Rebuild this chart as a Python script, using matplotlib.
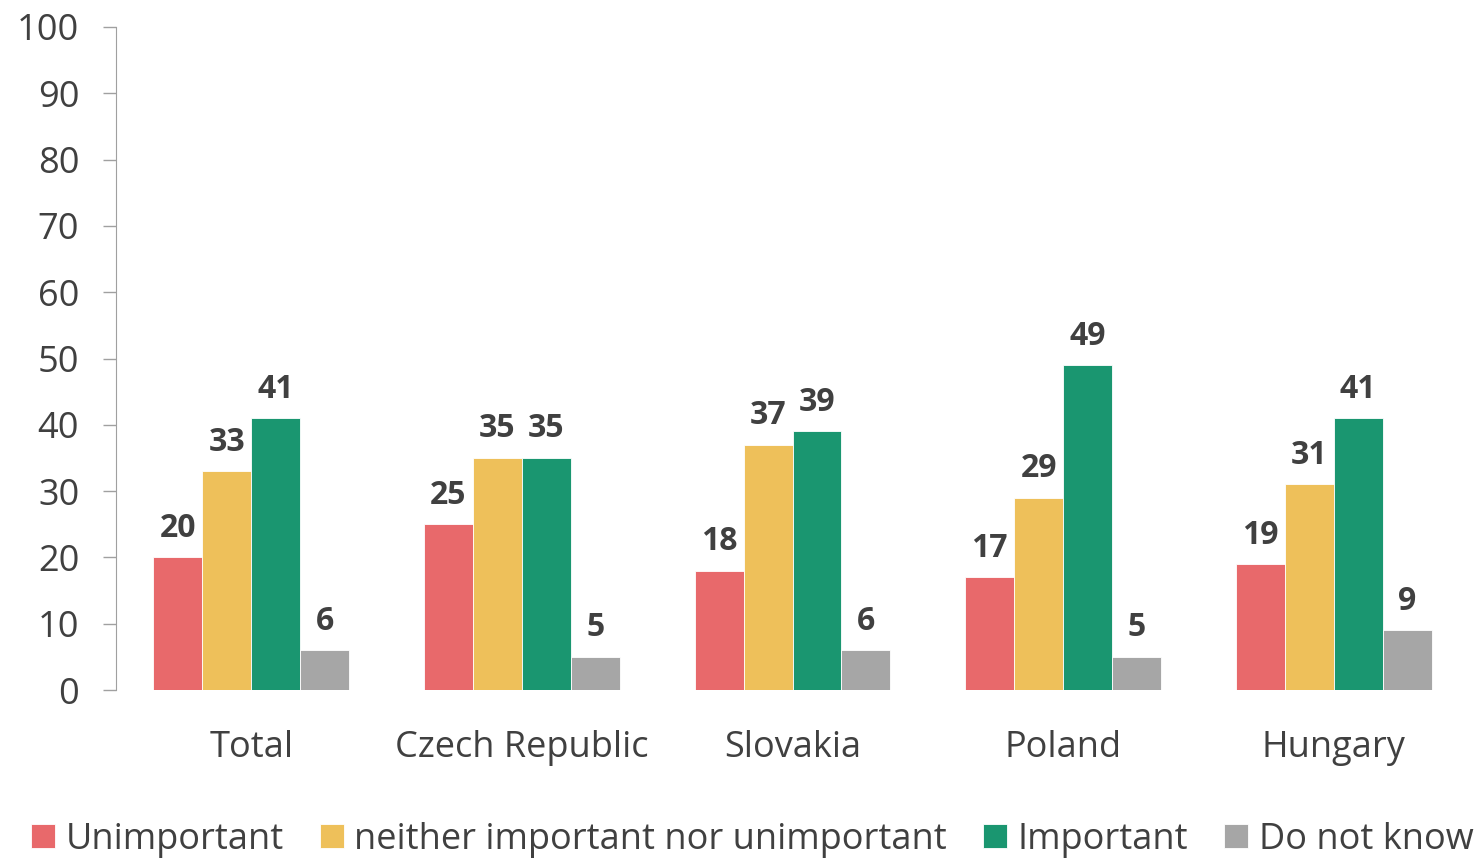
import matplotlib
matplotlib.use("Agg")
import matplotlib.pyplot as plt
import numpy as np

plt.rcParams['font.family'] = ['Open Sans', 'DejaVu Sans']

categories = ["Total", "Czech Republic", "Slovakia", "Poland", "Hungary"]
series_names = ["Unimportant", "neither important nor unimportant", "Important", "Do not know"]
unimportant = [20, 25, 18, 17, 19]
neither = [33, 35, 37, 29, 31]
important = [41, 35, 39, 49, 41]
dont_know = [6, 5, 6, 5, 9]
colors = ["#E8696B", "#EEC05A", "#1A9670", "#A6A6A6"]
yticks = list(range(0, 101, 10))

fig = plt.figure(figsize=(14.81, 8.58), dpi=100)
ax = fig.add_axes([116/1481, 168/858, (1469-116)/1481, 663/858])

x = np.arange(len(categories))
w = 0.181
data = [unimportant, neither, important, dont_know]
for i, (vals, name, c) in enumerate(zip(data, series_names, colors)):
    pos = x + (i - 1.5) * w
    ax.bar(pos, vals, w, color=c, label=name, edgecolor='white', linewidth=0.6)
    for p, v in zip(pos, vals):
        ax.annotate(str(v), (p, v), xytext=(0, 9), textcoords='offset points',
                    ha='center', va='bottom', fontsize=23, fontweight='bold',
                    color='#404040')

ax.set_xlim(-0.5, len(categories) - 0.5)
ax.set_ylim(0, 100)
ax.set_yticks(yticks)
ax.set_yticklabels([str(t) for t in yticks], fontsize=26, color='#404040')
ax.set_xticks(x)
ax.set_xticklabels(categories, fontsize=26, color='#404040')
ax.tick_params(axis='x', length=0, pad=29)
ax.tick_params(axis='y', length=9.5, color='#A0A0A0', width=1, pad=17)
for s in ['top', 'right', 'bottom']:
    ax.spines[s].set_visible(False)
ax.spines['left'].set_color('#A0A0A0')

leg = fig.legend(loc='lower center', bbox_to_anchor=(0.508, -0.038), ncol=4, frameon=False,
                 fontsize=26, handlelength=0.65, handleheight=0.65, handletextpad=0.3,
                 columnspacing=1.0)
for t in leg.get_texts():
    t.set_color('#404040')

fig.savefig("out.png", dpi=100)
